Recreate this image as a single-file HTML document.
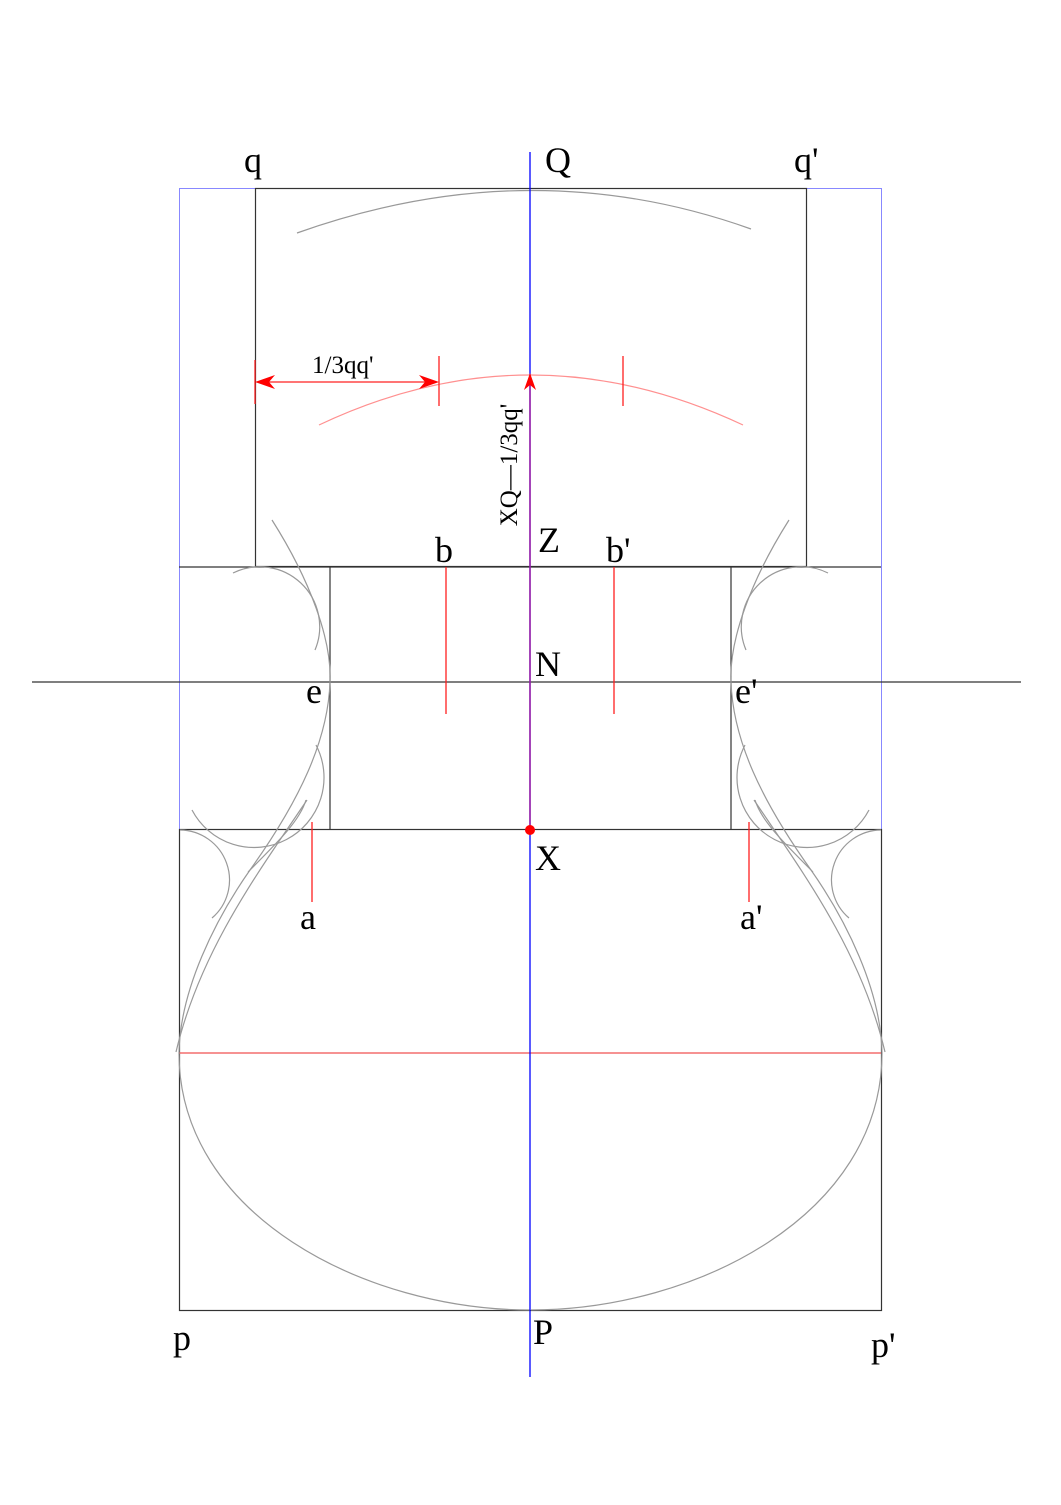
<!DOCTYPE html>
<html><head><meta charset="utf-8"><style>html,body{margin:0;padding:0;background:#fff}</style></head>
<body>
<svg width="1061" height="1500" viewBox="0 0 1061 1500" xmlns="http://www.w3.org/2000/svg" font-family="'Liberation Serif', serif">
<rect x="0" y="0" width="1061" height="1500" fill="#fff"/>
<rect x="179.5" y="188.5" width="702" height="641" fill="none" stroke="#8888ff" stroke-width="1"/>
<rect x="255.5" y="188.5" width="551" height="378" fill="none" stroke="#333" stroke-width="1.2"/>
<line x1="179" y1="567" x2="881" y2="567" stroke="#333" stroke-width="1.2"/>
<line x1="330" y1="567" x2="330" y2="829" stroke="#333" stroke-width="1.2"/>
<line x1="731" y1="567" x2="731" y2="829" stroke="#333" stroke-width="1.2"/>
<line x1="32" y1="682" x2="1021" y2="682" stroke="#333" stroke-width="1.2"/>
<rect x="179.5" y="829.5" width="702" height="481" fill="none" stroke="#333" stroke-width="1.2"/>
<line x1="179" y1="1053" x2="881" y2="1053" stroke="#f05050" stroke-width="1.2"/>
<path d="M297,233 Q530,150 751,229" fill="none" stroke="#999" stroke-width="1.2"/>
<path d="M319,425 Q530,325 743,425" fill="none" stroke="#ff9090" stroke-width="1.2"/>
<g fill="none" stroke="#999" stroke-width="1.2">
<path d="M272,520 C310,580 332,640 330,682 C328,740 300,800 250,870 C215,920 180,990 179,1053"/>
<path d="M307,800 C260,870 200,950 176,1052"/>
<path d="M248,872 C280,840 300,820 306,800"/>
<path d="M233,573 A60,60 0 0 1 315,650"/>
<path d="M192,810 A62,62 0 0 0 316,745"/>
<path d="M180,830 A50,50 0 0 1 212,918"/>
<path d="M179,1053 C179,1215 365,1310 530,1310"/>
</g>
<g fill="none" stroke="#999" stroke-width="1.2" transform="translate(1061,0) scale(-1,1)">
<path d="M272,520 C310,580 332,640 330,682 C328,740 300,800 250,870 C215,920 180,990 179,1053"/>
<path d="M307,800 C260,870 200,950 176,1052"/>
<path d="M248,872 C280,840 300,820 306,800"/>
<path d="M233,573 A60,60 0 0 1 315,650"/>
<path d="M192,810 A62,62 0 0 0 316,745"/>
<path d="M180,830 A50,50 0 0 1 212,918"/>
<path d="M179,1053 C179,1215 365,1310 530,1310"/>
</g>
<line x1="530" y1="152" x2="530" y2="1377" stroke="#0000ff" stroke-width="1.3"/>
<line x1="530" y1="385" x2="530" y2="829" stroke="#a020a0" stroke-width="1.5"/>
<polygon points="530,373 524,390 530,385 536,390" fill="#ff0000"/>
<circle cx="530" cy="830" r="5" fill="#ff0000"/>
<g stroke="#ff2020" stroke-width="1.3">
<line x1="255" y1="360" x2="255" y2="404"/>
<line x1="439" y1="356" x2="439" y2="406"/>
<line x1="623" y1="356" x2="623" y2="406"/>
<line x1="262" y1="382" x2="432" y2="382"/>
<line x1="446" y1="567" x2="446" y2="714"/>
<line x1="614" y1="567" x2="614" y2="714"/>
<line x1="312" y1="822" x2="312" y2="902"/>
<line x1="749" y1="822" x2="749" y2="902"/>
</g>
<polygon points="255,382 275,375 269,382 275,389" fill="#ff0000"/>
<polygon points="439,382 419,375 425,382 419,389" fill="#ff0000"/>
<g font-size="36" fill="#000">
<text x="244" y="172">q</text>
<text x="545" y="172">Q</text>
<text x="794" y="172">q'</text>
<text x="435" y="562">b</text>
<text x="538" y="552">Z</text>
<text x="606" y="562">b'</text>
<text x="535" y="676">N</text>
<text x="306" y="703">e</text>
<text x="735" y="703">e'</text>
<text x="535" y="870">X</text>
<text x="300" y="929">a</text>
<text x="740" y="929">a'</text>
<text x="173" y="1350">p</text>
<text x="533" y="1344">P</text>
<text x="871" y="1357">p'</text>
</g>
<text x="312" y="373" font-size="25">1/3qq'</text>
<text transform="translate(517,465) rotate(-90)" font-size="25" text-anchor="middle">XQ—1/3qq'</text>
</svg>
</body></html>
